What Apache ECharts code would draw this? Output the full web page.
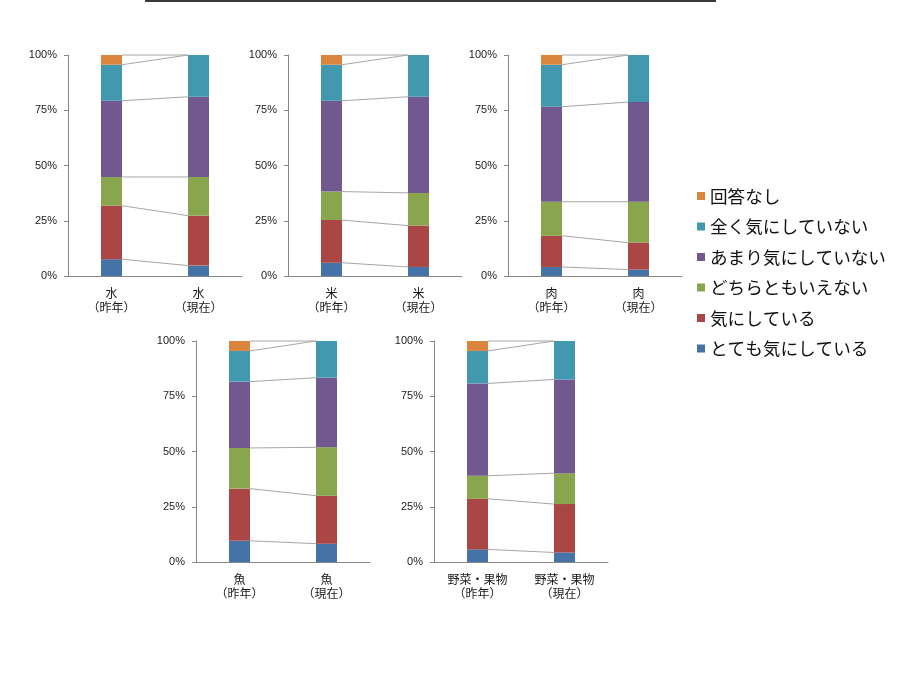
<!DOCTYPE html>
<html>
<head>
<meta charset="utf-8">
<script src="https://cdn.jsdelivr.net/npm/echarts@6/dist/echarts.min.js"></script>
<style>
  html, body { margin: 0; padding: 0; background: #fff; }
  #chart { width: 912px; height: 684px; }
</style>
</head>
<body>
<div id="chart"></div>
<script>
// series names, bottom to top of each stack
var seriesNames = ['とても気にしている', '気にしている', 'どちらともいえない', 'あまり気にしていない', '全く気にしていない', '回答なし'];
var colors = ['#4572A7', '#AA4643', '#89A54E', '#71588F', '#4198AF', '#DB843D'];
var yTicks = [0, 25, 50, 75, 100];

// one small chart per food, [昨年, 現在] in %
var items = ['水', '米', '肉', '魚', '野菜・果物'];
var periods = ['（昨年）', '（現在）'];
var veryCare   = [[7.6, 4.7], [6.0, 4.1], [4.1, 2.9], [9.6, 8.3], [5.7, 4.3]];
var care       = [[24.2, 22.6], [19.3, 18.7], [14.1, 12.2], [23.6, 21.7], [22.9, 21.9]];
var neither    = [[13.0, 17.5], [12.9, 14.8], [15.4, 18.5], [18.4, 21.9], [10.4, 14.0]];
var notMuch    = [[34.5, 36.3], [41.1, 43.5], [43.0, 45.1], [30.0, 31.5], [41.8, 42.4]];
var notAtAll   = [[16.3, 18.9], [16.3, 18.9], [19.0, 21.3], [13.9, 16.6], [14.7, 17.4]];
var noAnswer   = [[4.4, 0], [4.4, 0], [4.4, 0], [4.5, 0], [4.5, 0]];
var allValues = [veryCare, care, neither, notMuch, notAtAll, noAnswer];

// grid boxes [left, top]
var boxes = [[68, 55], [288, 55], [508, 55], [196, 341], [434, 341]];
var gridW = 174, gridH = 221, barW = 21;

var font = '"Liberation Sans", Arial, "Noto Sans CJK JP", sans-serif';
var cjk = '"Noto Sans CJK JP", sans-serif';
var grids = [], xAxes = [], yAxes = [], series = [];

items.forEach(function (name, g) {
    grids.push({ left: boxes[g][0], top: boxes[g][1], width: gridW, height: gridH });
    xAxes.push({
        type: 'category', gridIndex: g,
        data: periods.map(function (p) { return name + '\n' + p; }),
        axisLine: { lineStyle: { color: '#868686' } },
        axisTick: { show: false },
        axisLabel: { color: '#1a1a1a', fontSize: 12, lineHeight: 14, margin: 10, fontFamily: cjk, interval: 0 }
    });
    yAxes.push({
        type: 'value', gridIndex: g, min: 0, max: 100, interval: 25,
        axisLine: { show: true, lineStyle: { color: '#868686' } },
        axisTick: { show: true, length: 4, lineStyle: { color: '#868686' } },
        splitLine: { show: false },
        axisLabel: { formatter: '{value}%', color: '#222', fontSize: 11, margin: 11, fontFamily: font }
    });
    allValues.forEach(function (vals, s) {
        series.push({
            name: seriesNames[s], type: 'bar', stack: 'g' + g,
            xAxisIndex: g, yAxisIndex: g, barWidth: barW,
            itemStyle: { color: colors[s] },
            data: vals[g]
        });
    });
    // series lines between the tops of each segment
    var c1 = 0, c2 = 0, tops = [];
    allValues.forEach(function (vals) {
        c1 += vals[g][0]; c2 += vals[g][1];
        tops.push([0, Math.min(c1, 100), Math.min(c2, 100)]);
    });
    series.push({
        type: 'custom', xAxisIndex: g, yAxisIndex: g, z: 5,
        encode: { x: 0, y: [1, 2] },
        data: tops,
        renderItem: function (params, api) {
            var p1 = api.coord([0, api.value(1)]);
            var p2 = api.coord([1, api.value(2)]);
            return {
                type: 'line',
                shape: { x1: p1[0] + barW / 2, y1: p1[1], x2: p2[0] - barW / 2, y2: p2[1] },
                style: { stroke: '#a6a6a6', lineWidth: 1 }
            };
        }
    });
});

var myChart = echarts.init(document.getElementById('chart'));
myChart.setOption({
    animation: false,
    color: colors,
    legend: {
        orient: 'vertical', left: 692, top: 181,
        data: seriesNames.slice().reverse(),
        icon: 'rect', itemWidth: 8, itemHeight: 8, itemGap: 10.5,
        textStyle: { fontSize: 17.6, lineHeight: 20, color: '#111', fontFamily: cjk }
    },
    graphic: [{
        type: 'line', shape: { x1: 145, y1: 1, x2: 716, y2: 1 },
        style: { stroke: '#3a3a3a', lineWidth: 2 }
    }],
    grid: grids,
    xAxis: xAxes,
    yAxis: yAxes,
    series: series
});
</script>
</body>
</html>
